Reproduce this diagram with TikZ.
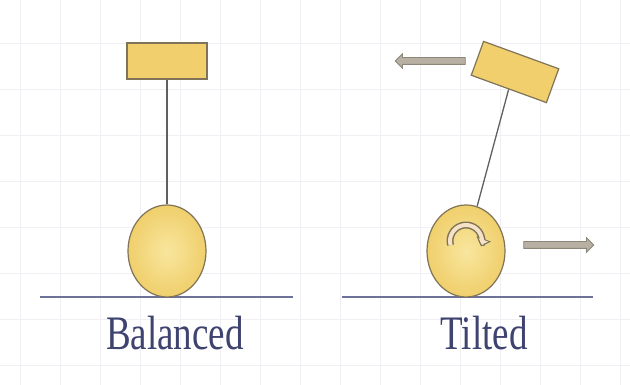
\documentclass[tikz,border=0pt]{standalone}
\usepackage{fontspec}
\setmainfont{Liberation Serif}
\usetikzlibrary{shapes.geometric,shapes.arrows,arrows.meta}

\definecolor{bodyfill}{HTML}{F0CF6C}
\definecolor{bodycentre}{HTML}{F8E69E}
\definecolor{edgecol}{HTML}{7F7457}
\definecolor{floorcol}{HTML}{6E7298}
\definecolor{labelcol}{HTML}{3F4370}
\definecolor{pushfill}{HTML}{B8B0A2}
\definecolor{pushedge}{HTML}{8C8578}
\definecolor{gridcol}{HTML}{F0F0F4}
\definecolor{turnfill}{HTML}{F6E2C6}

\tikzset{
  weight/.style={draw=edgecol, line width=1.2pt, fill=bodyfill, minimum width=80pt, minimum height=36pt, inner sep=0pt},
  wheel/.style={ellipse, draw=edgecol, line width=1.2pt, inner color=bodycentre, outer color=bodyfill, minimum width=78pt, minimum height=92pt, inner sep=0pt},
  rod/.style={draw=gray!75!black, line width=1.3pt},
  floor/.style={draw=floorcol, line width=2pt},
  caption/.style={text=labelcol, font=\fontsize{37}{40}\selectfont, anchor=base, inner sep=0pt},
  push/.style={single arrow, draw=pushedge, fill=pushfill, line width=0.8pt, minimum height=70pt, inner sep=3pt, single arrow head extend=3.8pt}
}

\begin{document}
\begin{tikzpicture}[x=1pt, y=1pt]
	\useasboundingbox (0,0) rectangle (630,385);
	\fill [white] (0,0) rectangle (630,385);
	% faint grid behind everything
	\foreach \gx in {20,60,...,620} \draw [gridcol, line width=0.8pt] (\gx,0) -- (\gx,385);
	\foreach \gy in {20,66,...,342} \draw [gridcol, line width=0.8pt] (0,\gy) -- (630,\gy);

	% balanced
	\draw [floor] (40,88) -- (293,88);
	\node [wheel] (wheel1) at (167,134) {};
	\node [weight] (pole1) at (167,324) {};
	\draw [rod] (pole1.south) -- (wheel1.north);
	\node [caption] (cap1) at (175,35) {\scalebox{1}[1.3]{Balanced}};

	% tilted
	\draw [floor] (342,88) -- (593,88);
	\node [wheel] (wheel2) at (466,134) {};
	\node [weight, rotate=-20] (pole2) at (515,313) {};
	\draw [rod] (pole2.south) -- (wheel2.76);
	\node [push, shape border rotate=180] (pushleft) at (432,324) {};
	\node [push] (pushright) at (557,140) {};
	\draw [edgecol, line width=7pt, -{Triangle[length=8pt,width=15pt]}] (466,144) ++(195:16) arc [start angle=195, end angle=-20, radius=16];
	\draw [turnfill, line width=4pt, shorten >=2pt, -{Triangle[length=5pt,width=10pt]}] (466,144) ++(195:16) arc [start angle=195, end angle=-20, radius=16];
	\node [caption] (cap2) at (484,35) {\scalebox{1}[1.3]{Tilted}};
\end{tikzpicture}
\end{document}
